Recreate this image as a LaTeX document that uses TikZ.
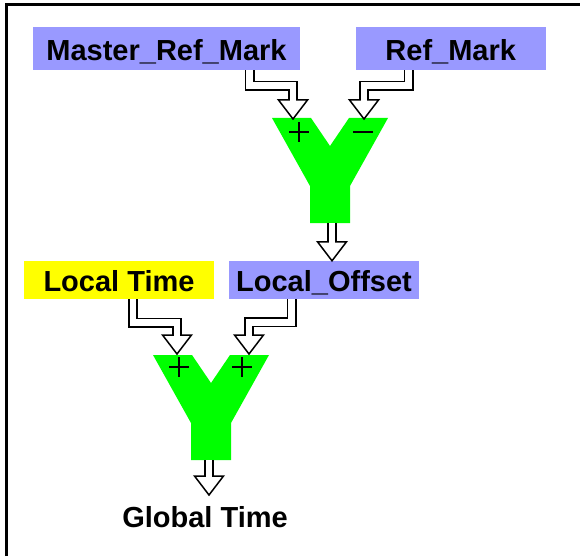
\documentclass[tikz,border=0pt]{standalone}
\usepackage{fontspec}
\setmainfont{Liberation Sans}
\usetikzlibrary{calc}
\definecolor{boxblue}{HTML}{9999FF}
\definecolor{boxyellow}{HTML}{FFFF00}
\definecolor{sumgreen}{HTML}{00FF00}
\tikzset{
  labelfont/.style={font=\bfseries\fontsize{29}{34}\selectfont},
  signal/.style={labelfont, inner xsep=0pt, inner ysep=0pt, anchor=base},
  topbox/.style={signal, text height=34pt, text depth=9pt},
  midbox/.style={signal, text height=30pt, text depth=8pt},
  summer/.style={fill=sumgreen},
  sign/.style={line width=1.5pt},
  tubeout/.style={line width=10pt, black, line join=miter},
  tubein/.style={line width=6.6pt, white, line join=miter},
  tubehead/.style={fill=white, draw=black, line width=1.5pt, line join=miter},
}
% hollow feed with one jog: start, jog depth, arrow tip
\newcommand{\bentfeed}[3]{%
  \draw[tubeout] (#1) -- ($(#1)+(0,#2)$) -| ($(#3)+(0,-19)$);
  \draw[tubehead] ($(#3)+(-14.5,-19)$) -- ($(#3)+(14.5,-19)$) -- (#3) -- cycle;
  \draw[tubein] (#1) -- ($(#1)+(0,#2)$) -| ($(#3)+(0,-17.5)$);
}
% straight hollow feed: start, arrow tip
\newcommand{\straightfeed}[2]{%
  \draw[tubeout] (#1) -- ($(#2)+(0,-19)$);
  \draw[tubehead] ($(#2)+(-14.5,-19)$) -- ($(#2)+(14.5,-19)$) -- (#2) -- cycle;
  \draw[tubein] (#1) -- ($(#2)+(0,-17.5)$);
}
% Y-shaped summing junction from its top centre
\newcommand{\summingY}[1]{%
  \fill[summer] ($(#1)+(-58,0)$) -- ($(#1)+(-19,0)$) -- ($(#1)+(0,28)$)
    -- ($(#1)+(19,0)$) -- ($(#1)+(58,0)$) -- ($(#1)+(20,68)$)
    -- ($(#1)+(20,105)$) -- ($(#1)+(-20,105)$) -- ($(#1)+(-20,68)$) -- cycle;
}
\newcommand{\plussign}[1]{%
  \draw[sign] ($(#1)+(-10,0)$) -- ($(#1)+(10,0)$) ($(#1)+(0,-10)$) -- ($(#1)+(0,10)$);
}
\newcommand{\minussign}[1]{%
  \draw[sign] ($(#1)+(-10,0)$) -- ($(#1)+(10,0)$);
}
\begin{document}
\begin{tikzpicture}[x=1pt, y=-1pt]
\useasboundingbox (0,0) rectangle (580,556);
\fill[white] (0,0) rectangle (580,556);
\draw[line width=2.5pt] (6.5,556) -- (6.5,4.5) -- (580,4.5);

% signal boxes
\node[topbox, fill=boxblue, minimum width=267pt] (master) at (166.5,61) {Master\_Ref\_Mark};
\node[topbox, fill=boxblue, minimum width=190.5pt] (ref) at (450.75,61) {Ref\_Mark};
\node[midbox, fill=boxyellow, minimum width=190pt] (local) at (119,291) {Local Time};
\node[midbox, fill=boxblue, minimum width=190pt] (offset) at (324,291) {Local\_Offset};
\node[signal] (global) at (205,527) {Global Time};

% summing junctions
\coordinate (y1) at (330,118);
\coordinate (y2) at (211,355);
\summingY{y1}
\summingY{y2}

% ports
\coordinate (master-out) at ([xshift=83pt]master.south);
\coordinate (ref-out) at ([xshift=-42pt]ref.south);
\coordinate (local-out) at ([xshift=14pt]local.south);
\coordinate (offset-out) at ([xshift=-32.5pt]offset.south);
\coordinate (offset-in) at ([xshift=8pt]offset.north);
\coordinate (y1-plus) at (293,119);
\coordinate (y1-minus) at (364,119);
\coordinate (y1-out) at ($(y1)+(2,105)$);
\coordinate (y2-plus-a) at (177,354);
\coordinate (y2-plus-b) at (249,354);
\coordinate (y2-out) at ($(y2)+(-2,105)$);
\coordinate (global-in) at (209,495);

% feeds
\bentfeed{master-out}{15.5}{y1-plus}
\bentfeed{ref-out}{15.5}{y1-minus}
\straightfeed{y1-out}{offset-in}
\bentfeed{local-out}{23.5}{y2-plus-a}
\bentfeed{offset-out}{23}{y2-plus-b}
\straightfeed{y2-out}{global-in}

% signs
\plussign{299,132}
\minussign{363,132}
\plussign{179,367}
\plussign{242,367}
\end{tikzpicture}
\end{document}
